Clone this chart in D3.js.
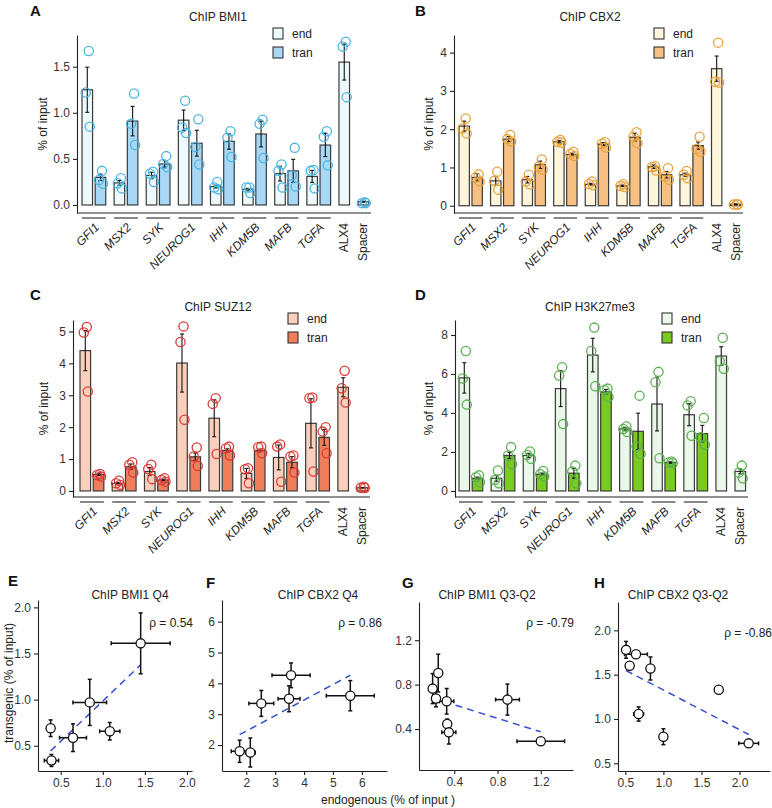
<!DOCTYPE html>
<html>
<head>
<meta charset="utf-8">
<script src="https://cdn.jsdelivr.net/npm/d3@7"></script>
<style>
  body { margin: 0; background: #fff; }
  svg { font-family: "Liberation Sans", Arial, sans-serif; }
</style>
</head>
<body>
<div id="chart"></div>
<script>
/**
 * CONSTANTS AND GLOBALS
 * */
const width = 772, height = 808;

const genes = ["GFI1", "MSX2", "SYK", "NEUROG1", "IHH", "KDM5B", "MAFB", "TGFA"];
const singles = ["ALX4", "Spacer"];

// A - ChIP BMI1
const bmi1End = [1.25, 0.24, 0.32, 0.92, 0.20, 0.17, 0.34, 0.31];
const bmi1EndSe = [0.245, 0.025, 0.035, 0.11, 0.015, 0.01, 0.08, 0.065];
const bmi1Tran = [0.30, 0.91, 0.445, 0.67, 0.69, 0.77, 0.37, 0.65];
const bmi1TranSe = [0.035, 0.16, 0.035, 0.14, 0.085, 0.14, 0.125, 0.125];
const bmi1Single = [1.55, 0.036];
const bmi1SingleSe = [0.195, 0.005];
const bmi1EndPts = [[1.67, 1.22, 0.85], [0.29, 0.235, 0.18], [0.36, 0.34, 0.25], [1.13, 0.84, 0.78],
  [0.25, 0.19, 0.17], [0.19, 0.19, 0.13], [0.44, 0.37, 0.19], [0.38, 0.37, 0.18]];
const bmi1TranPts = [[0.37, 0.27, 0.23], [1.21, 0.88, 0.65], [0.53, 0.445, 0.41], [0.93, 0.63, 0.44],
  [0.80, 0.73, 0.52], [0.925, 0.88, 0.51], [0.62, 0.32, 0.20], [0.80, 0.74, 0.43]];
const bmi1SinglePts = [[1.77, 1.72, 1.17], [0.03, 0.02, 0.02]];

// B - ChIP CBX2
const cbx2End = [2.08, 0.65, 0.68, 1.67, 0.56, 0.52, 1.02, 0.81];
const cbx2EndSe = [0.13, 0.115, 0.085, 0.03, 0.025, 0.02, 0.045, 0.04];
const cbx2Tran = [0.74, 1.74, 1.07, 1.34, 1.61, 1.79, 0.81, 1.57];
const cbx2TranSe = [0.10, 0.065, 0.095, 0.035, 0.04, 0.105, 0.085, 0.095];
const cbx2Single = [3.58, 0.04];
const cbx2SingleSe = [0.33, 0.005];
const cbx2EndPts = [[2.28, 2.02, 1.89], [0.89, 0.65, 0.42], [0.81, 0.63, 0.56], [1.72, 1.67, 1.65],
  [0.63, 0.57, 0.54], [0.56, 0.52, 0.49], [1.03, 1.01, 0.92], [0.91, 0.81, 0.72]];
const cbx2TranPts = [[0.82, 0.74, 0.63], [1.85, 1.74, 1.68], [1.21, 1.02, 0.94], [1.41, 1.35, 1.30],
  [1.66, 1.62, 1.52], [1.92, 1.80, 1.63], [0.98, 0.76, 0.68], [1.80, 1.48, 1.41]];
const cbx2SinglePts = [[4.26, 3.24, 3.22], [0.04, 0.03, 0.03]];

// C - ChIP SUZ12
const suz12End = [4.40, 0.24, 0.61, 4.01, 2.28, 0.55, 1.05, 2.12];
const suz12EndSe = [0.63, 0.02, 0.125, 0.91, 0.58, 0.155, 0.39, 0.77];
const suz12Tran = [0.52, 0.76, 0.345, 1.07, 1.27, 1.27, 0.90, 1.68];
const suz12TranSe = [0.035, 0.085, 0.025, 0.115, 0.05, 0.04, 0.175, 0.25];
const suz12Single = [3.25, 0.10];
const suz12SingleSe = [0.30, 0.01];
const suz12EndPts = [[5.14, 4.97, 3.12], [0.32, 0.24, 0.19], [0.82, 0.69, 0.37], [5.16, 4.67, 2.23],
  [2.91, 2.73, 1.16], [0.71, 0.68, 0.24], [1.46, 1.39, 0.29], [2.93, 2.91, 0.61]];
const suz12TranPts = [[0.53, 0.50, 0.45], [0.90, 0.82, 0.58], [0.40, 0.345, 0.29], [1.36, 1.08, 0.78],
  [1.39, 1.34, 1.11], [1.39, 1.37, 1.18], [1.11, 1.08, 0.58], [2.0, 1.86, 1.18]];
const suz12SinglePts = [[3.77, 3.22, 2.77], [0.13, 0.10, 0.09]];

// D - ChIP H3K27me3
const k27End = [5.80, 0.65, 1.82, 5.25, 6.97, 3.18, 4.46, 3.91];
const k27EndSe = [0.78, 0.15, 0.11, 0.92, 0.86, 0.085, 1.38, 0.565];
const k27Tran = [0.65, 1.82, 0.86, 0.91, 5.08, 3.06, 1.46, 2.94];
const k27TranSe = [0.06, 0.15, 0.055, 0.26, 0.13, 0.93, 0.035, 0.425];
const k27Single = [6.92, 1.0];
const k27SingleSe = [0.48, 0.12];
const k27EndPts = [[7.18, 5.77, 4.43], [1.05, 0.57, 0.39], [2.03, 1.85, 1.65], [6.35, 5.92, 3.43],
  [8.38, 7.18, 5.37], [3.31, 3.18, 3.02], [6.11, 5.58, 1.68], [4.60, 4.39, 2.83]];
const k27TranPts = [[0.80, 0.70, 0.45], [2.25, 1.82, 1.37], [1.03, 0.86, 0.74], [1.30, 1.0, 0.39],
  [5.25, 5.17, 4.82], [4.89, 2.28, 1.91], [1.51, 1.46, 1.42], [3.74, 2.75, 2.37]];
const k27SinglePts = [[7.86, 6.66, 6.27], [1.30, 0.94, 0.65]];

// E-H scatter: endogenous (x) vs transgenic (y), mean and sem
const bmi1Q4End = [1.45, 0.845, 0.646, 1.083, 0.38, 0.39];
const bmi1Q4EndSe = [0.35, 0.2, 0.16, 0.12, 0.0, 0.085];
const bmi1Q4Tran = [1.61, 0.97, 0.587, 0.657, 0.69, 0.34];
const bmi1Q4TranSe = [0.33, 0.25, 0.15, 0.095, 0.09, 0.065];

const cbx2Q4End = [1.77, 2.14, 2.52, 3.55, 3.48, 5.6];
const cbx2Q4EndSe = [0.29, 0.17, 0.43, 0.66, 0.38, 0.83];
const cbx2Q4Tran = [1.80, 1.76, 3.35, 4.26, 3.5, 3.6];
const cbx2Q4TranSe = [0.36, 0.47, 0.42, 0.40, 0.42, 0.49];

const bmi1Q32End = [0.2, 0.252, 0.231, 0.33, 0.335, 0.35, 0.892, 1.2];
const bmi1Q32EndSe = [0, 0, 0.01, 0.066, 0, 0.065, 0.11, 0.22];
const bmi1Q32Tran = [0.764, 0.904, 0.675, 0.65, 0.445, 0.37, 0.665, 0.29];
const bmi1Q32TranSe = [0.135, 0.17, 0.075, 0.115, 0.045, 0.105, 0.14, 0.01];

const cbx2Q32End = [0.51, 0.64, 0.557, 0.83, 0.675, 1.0, 1.727, 2.12];
const cbx2Q32EndSe = [0, 0.15, 0, 0, 0.065, 0, 0, 0.13];
const cbx2Q32Tran = [1.78, 1.73, 1.60, 1.57, 1.056, 0.80, 1.33, 0.725];
const cbx2Q32TranSe = [0.095, 0.02, 0.03, 0.13, 0.08, 0.09, 0, 0.04];

/**
 * PANEL SETUP
 * */
const barPanels = [
  { letter: "A", lx: 30, ly: 16, title: "ChIP BMI1", tx: 218, ty: 21,
    end: bmi1End, endSe: bmi1EndSe, tran: bmi1Tran, tranSe: bmi1TranSe,
    single: bmi1Single, singleSe: bmi1SingleSe,
    endPts: bmi1EndPts, tranPts: bmi1TranPts, singlePts: bmi1SinglePts,
    axisX: 77, barL: 82, barR: 369, top: 35, bottom: 213, yDomain: [-0.087, 1.844],
    ticks: [0, 0.5, 1, 1.5], fmt: ".1f", legX: 273, legY: 28, ylabX: 47,
    endFill: "#eef9fd", tranFill: "#a9d8f5", dot: "#4bb6e4" },
  { letter: "B", lx: 415, ly: 16, title: "ChIP CBX2", tx: 590, ty: 21,
    end: cbx2End, endSe: cbx2EndSe, tran: cbx2Tran, tranSe: cbx2TranSe,
    single: cbx2Single, singleSe: cbx2SingleSe,
    endPts: cbx2EndPts, tranPts: cbx2TranPts, singlePts: cbx2SinglePts,
    axisX: 454, barL: 459, barR: 741, top: 35, bottom: 213, yDomain: [-0.19, 4.46],
    ticks: [0, 1, 2, 3, 4], fmt: "d", legX: 654, legY: 28, ylabX: 433,
    endFill: "#fff5da", tranFill: "#f8c184", dot: "#e9a13b" },
  { letter: "C", lx: 30, ly: 300, title: "ChIP SUZ12", tx: 218, ty: 311,
    end: suz12End, endSe: suz12EndSe, tran: suz12Tran, tranSe: suz12TranSe,
    single: suz12Single, singleSe: suz12SingleSe,
    endPts: suz12EndPts, tranPts: suz12TranPts, singlePts: suz12SinglePts,
    axisX: 73, barL: 80, barR: 368, top: 320, bottom: 497, yDomain: [-0.19, 5.36],
    ticks: [0, 1, 2, 3, 4, 5], fmt: "d", legX: 288, legY: 313, ylabX: 48,
    endFill: "#fad0bd", tranFill: "#f07e5a", dot: "#d93a35" },
  { letter: "D", lx: 415, ly: 300, title: "ChIP H3K27me3", tx: 590, ty: 311,
    end: k27End, endSe: k27EndSe, tran: k27Tran, tranSe: k27TranSe,
    single: k27Single, singleSe: k27SingleSe,
    endPts: k27EndPts, tranPts: k27TranPts, singlePts: k27SinglePts,
    axisX: 455, barL: 459, barR: 746, top: 320, bottom: 497, yDomain: [-0.31, 8.77],
    ticks: [0, 2, 4, 6, 8], fmt: "d", legX: 662, legY: 313, ylabX: 433,
    endFill: "#e9f8e9", tranFill: "#7acb1f", dot: "#5bb052" },
];

const scatterPanels = [
  { letter: "E", lx: 8, ly: 586, title: "ChIP BMI1 Q4", tx: 130, rho: "ρ = 0.54", rx: 193, ry: 627,
    xs: bmi1Q4End, xse: bmi1Q4EndSe, ys: bmi1Q4Tran, yse: bmi1Q4TranSe,
    xRange: [38, 192], yRange: [771, 600], xDomain: [0.23, 2.06], yDomain: [0.226, 2.08],
    xTicks: [0.5, 1, 1.5, 2], yTicks: [0.5, 1, 1.5, 2], fmt: ".1f" },
  { letter: "F", lx: 206, ly: 588, title: "ChIP CBX2 Q4", tx: 318, rho: "ρ = 0.86", rx: 382, ry: 627,
    xs: cbx2Q4End, xse: cbx2Q4EndSe, ys: cbx2Q4Tran, yse: cbx2Q4TranSe,
    xRange: [222, 387], yRange: [771, 600], xDomain: [1.16, 6.87], yDomain: [1.16, 6.7],
    xTicks: [2, 3, 4, 5, 6], yTicks: [2, 3, 4, 5, 6], fmt: "d" },
  { letter: "G", lx: 402, ly: 588, title: "ChIP BMI1 Q3-Q2", tx: 487, rho: "ρ = -0.79", rx: 574, ry: 627,
    xs: bmi1Q32End, xse: bmi1Q32EndSe, ys: bmi1Q32Tran, yse: bmi1Q32TranSe,
    xRange: [419, 573], yRange: [770, 602], xDomain: [0.074, 1.498], yDomain: [0.031, 1.544],
    xTicks: [0.4, 0.8, 1.2], yTicks: [0.4, 0.8, 1.2], fmt: ".1f" },
  { letter: "H", lx: 594, ly: 588, title: "ChIP CBX2 Q3-Q2", tx: 678, rho: "ρ = -0.86", rx: 772, ry: 637,
    xs: cbx2Q32End, xse: cbx2Q32EndSe, ys: cbx2Q32Tran, yse: cbx2Q32TranSe,
    xRange: [618, 770], yRange: [771, 602], xDomain: [0.404, 2.40], yDomain: [0.413, 2.32],
    xTicks: [0.5, 1, 1.5, 2], yTicks: [0.5, 1, 1.5, 2], fmt: ".1f" },
];

// bar slot layout (unit = one bar width)
const groupPitch = 2.92, innerPitch = 1.2, singlePitch = 1.73;
const jitter = [1.5, -1.5, 2.5];

const svg = d3.select("#chart").append("svg")
  .attr("width", width)
  .attr("height", height);

barPanels.forEach(drawBarPanel);
scatterPanels.forEach(drawScatterPanel);

// shared axis labels for the scatter row
svg.append("text")
  .attr("transform", "translate(13,683) rotate(-90)")
  .attr("text-anchor", "middle")
  .attr("font-size", 12).attr("fill", "#222")
  .text("transgenic (% of input)");
svg.append("text")
  .attr("x", 388).attr("y", 804)
  .attr("text-anchor", "middle")
  .attr("font-size", 12).attr("fill", "#222")
  .text("endogenous (% of input )");

function styleAxis(g) {
  g.selectAll("path, line").attr("stroke", "#222").attr("stroke-width", 1.1);
  g.selectAll("text").attr("font-size", 12).attr("fill", "#333")
    .attr("font-family", "Liberation Sans, Arial, sans-serif");
}

function drawBarPanel(p) {
  const g = svg.append("g");

  // build bar list from the arrays
  const bars = [];
  genes.forEach((name, i) => {
    bars.push({ pos: i * groupPitch, v: p.end[i], se: p.endSe[i], pts: p.endPts[i], fill: p.endFill });
    bars.push({ pos: i * groupPitch + innerPitch, v: p.tran[i], se: p.tranSe[i], pts: p.tranPts[i], fill: p.tranFill });
  });
  singles.forEach((name, k) => {
    bars.push({ pos: genes.length * groupPitch + k * singlePitch, v: p.single[k], se: p.singleSe[k],
      pts: p.singlePts[k], fill: p.endFill });
  });

  const x = d3.scaleLinear()
    .domain([0, genes.length * groupPitch + singlePitch + 1])
    .range([p.barL, p.barR]);
  const y = d3.scaleLinear().domain(p.yDomain).range([p.bottom, p.top]);
  const bw = x(0.96) - x(0);

  // axes
  g.append("g")
    .attr("transform", `translate(${p.axisX},0)`)
    .call(d3.axisLeft(y).tickValues(p.ticks).tickFormat(d3.format(p.fmt)).tickSize(4).tickSizeOuter(0))
    .call(styleAxis);
  g.append("line")
    .attr("x1", p.axisX).attr("x2", p.barR + 2)
    .attr("y1", p.bottom).attr("y2", p.bottom)
    .attr("stroke", "#222").attr("stroke-width", 1.1);

  // bars
  g.selectAll("rect.bar")
    .data(bars)
    .join("rect")
    .attr("class", "bar")
    .attr("x", d => x(d.pos))
    .attr("y", d => y(d.v))
    .attr("width", bw)
    .attr("height", d => y(0) - y(d.v))
    .attr("fill", d => d.fill)
    .attr("stroke", "#3a3a3a")
    .attr("stroke-width", 1.2);

  // error bars
  const eb = g.selectAll("g.err").data(bars).join("g").attr("class", "err")
    .attr("stroke", "#111").attr("stroke-width", 1.1);
  eb.append("line")
    .attr("x1", d => x(d.pos) + bw / 2).attr("x2", d => x(d.pos) + bw / 2)
    .attr("y1", d => y(d.v + d.se)).attr("y2", d => y(d.v - d.se));
  [1, -1].forEach(s => {
    eb.append("line")
      .attr("x1", d => x(d.pos) + bw / 2 - 2).attr("x2", d => x(d.pos) + bw / 2 + 2)
      .attr("y1", d => y(d.v + s * d.se)).attr("y2", d => y(d.v + s * d.se));
  });

  // replicate dots
  const dots = bars.flatMap(d => d.pts.map((v, j) => ({ cx: x(d.pos) + bw / 2 + jitter[j], v })));
  g.selectAll("circle.dot")
    .data(dots)
    .join("circle")
    .attr("class", "dot")
    .attr("cx", d => d.cx)
    .attr("cy", d => y(d.v))
    .attr("r", 4.6)
    .attr("fill", "none")
    .attr("stroke", p.dot)
    .attr("stroke-width", 1.3);

  // underline for each gene pair + labels
  genes.forEach((name, i) => {
    const l = x(i * groupPitch), r = x(i * groupPitch + innerPitch) + bw;
    g.append("line")
      .attr("x1", l).attr("x2", r)
      .attr("y1", p.bottom + 5).attr("y2", p.bottom + 5)
      .attr("stroke", "#555").attr("stroke-width", 1.4);
    g.append("text")
      .attr("transform", `translate(${(l + r) / 2 + 3},${p.bottom + 12}) rotate(-45)`)
      .attr("text-anchor", "end")
      .attr("dy", "0.35em")
      .attr("font-size", 12)
      .attr("font-style", "italic")
      .attr("fill", "#222")
      .text(name);
  });
  singles.forEach((name, k) => {
    const cx = x(genes.length * groupPitch + k * singlePitch) + bw / 2;
    g.append("text")
      .attr("transform", `translate(${cx},${p.bottom + 10}) rotate(-90)`)
      .attr("text-anchor", "end")
      .attr("dy", "0.35em")
      .attr("font-size", 12)
      .attr("fill", "#222")
      .text(name);
  });

  // legend
  [["end", p.endFill], ["tran", p.tranFill]].forEach(([lab, col], k) => {
    g.append("rect")
      .attr("x", p.legX).attr("y", p.legY + k * 19)
      .attr("width", 10).attr("height", 11)
      .attr("fill", col).attr("stroke", "#333").attr("stroke-width", 1.1);
    g.append("text")
      .attr("x", p.legX + 19).attr("y", p.legY + k * 19 + 10)
      .attr("font-size", 12).attr("fill", "#222")
      .text(lab);
  });

  // titles
  g.append("text").attr("x", p.tx).attr("y", p.ty)
    .attr("text-anchor", "middle").attr("font-size", 12).attr("fill", "#222")
    .text(p.title);
  g.append("text").attr("x", p.lx).attr("y", p.ly)
    .attr("font-size", 15).attr("font-weight", "bold").attr("fill", "#111")
    .text(p.letter);
  g.append("text")
    .attr("transform", `translate(${p.ylabX},${(p.top + p.bottom) / 2}) rotate(-90)`)
    .attr("text-anchor", "middle").attr("font-size", 12).attr("fill", "#222")
    .text("% of input");
}

function drawScatterPanel(p) {
  const g = svg.append("g");
  const x = d3.scaleLinear().domain(p.xDomain).range(p.xRange);
  const y = d3.scaleLinear().domain(p.yDomain).range(p.yRange);

  g.append("g")
    .attr("transform", `translate(0,${p.yRange[0]})`)
    .call(d3.axisBottom(x).tickValues(p.xTicks).tickFormat(d3.format(p.fmt)).tickSize(4).tickSizeOuter(0))
    .call(styleAxis);
  g.append("g")
    .attr("transform", `translate(${p.xRange[0]},0)`)
    .call(d3.axisLeft(y).tickValues(p.yTicks).tickFormat(d3.format(p.fmt)).tickSize(4).tickSizeOuter(0))
    .call(styleAxis);

  const pts = p.xs.map((v, i) => ({ x: v, y: p.ys[i], xse: p.xse[i], yse: p.yse[i] }));

  // least squares fit, drawn over the x range of the points
  const mx = d3.mean(p.xs), my = d3.mean(p.ys);
  const slope = d3.sum(pts, d => (d.x - mx) * (d.y - my)) / d3.sum(pts, d => (d.x - mx) ** 2);
  const [x0, x1] = d3.extent(p.xs);
  g.append("line")
    .attr("x1", x(x0)).attr("y1", y(my + slope * (x0 - mx)))
    .attr("x2", x(x1)).attr("y2", y(my + slope * (x1 - mx)))
    .attr("stroke", "#3a4fcf").attr("stroke-width", 1.5)
    .attr("stroke-dasharray", "7,5");

  const eb = g.selectAll("g.err").data(pts).join("g").attr("class", "err")
    .attr("stroke", "#111").attr("stroke-width", 1.5);
  eb.append("line")
    .attr("x1", d => x(d.x - d.xse)).attr("x2", d => x(d.x + d.xse))
    .attr("y1", d => y(d.y)).attr("y2", d => y(d.y));
  eb.append("line")
    .attr("x1", d => x(d.x)).attr("x2", d => x(d.x))
    .attr("y1", d => y(d.y - d.yse)).attr("y2", d => y(d.y + d.yse));
  [-1, 1].forEach(s => {
    eb.filter(d => d.xse > 0).append("line")
      .attr("x1", d => x(d.x + s * d.xse)).attr("x2", d => x(d.x + s * d.xse))
      .attr("y1", d => y(d.y) - 2).attr("y2", d => y(d.y) + 2);
    eb.filter(d => d.yse > 0).append("line")
      .attr("x1", d => x(d.x) - 2).attr("x2", d => x(d.x) + 2)
      .attr("y1", d => y(d.y + s * d.yse)).attr("y2", d => y(d.y + s * d.yse));
  });

  g.selectAll("circle.pt")
    .data(pts)
    .join("circle")
    .attr("class", "pt")
    .attr("cx", d => x(d.x))
    .attr("cy", d => y(d.y))
    .attr("r", 4.6)
    .attr("fill", "#fff")
    .attr("stroke", "#111")
    .attr("stroke-width", 1.3);

  g.append("text").attr("x", p.rx).attr("y", p.ry)
    .attr("text-anchor", "end").attr("font-size", 12).attr("fill", "#222")
    .text(p.rho);
  g.append("text").attr("x", p.tx).attr("y", 599)
    .attr("text-anchor", "middle").attr("font-size", 12).attr("fill", "#222")
    .text(p.title);
  g.append("text").attr("x", p.lx).attr("y", p.ly)
    .attr("font-size", 15).attr("font-weight", "bold").attr("fill", "#111")
    .text(p.letter);
}
</script>
</body>
</html>
